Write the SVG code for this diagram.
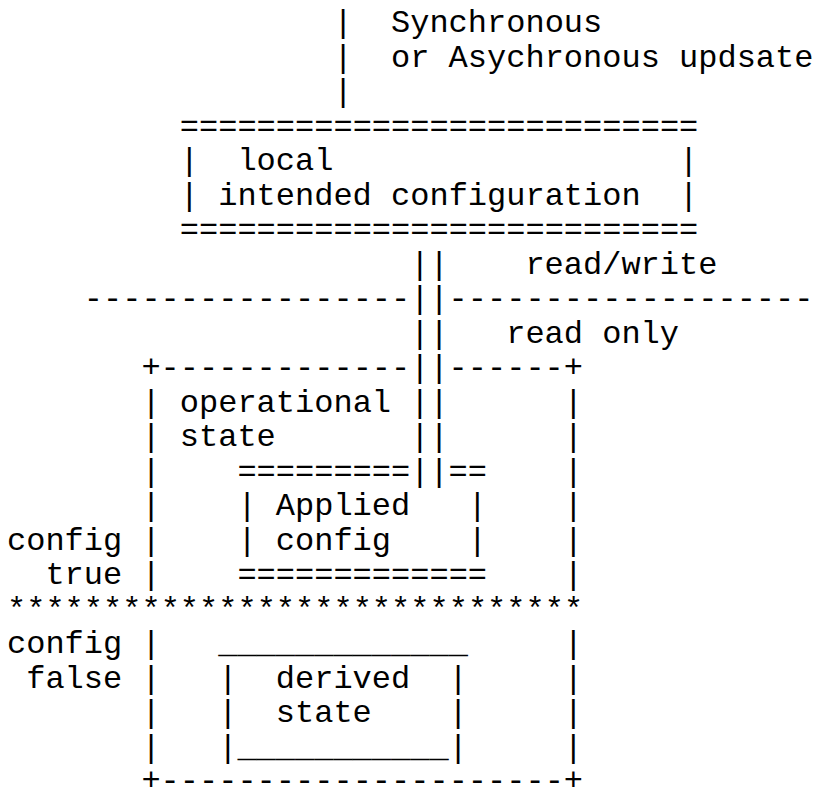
<svg xmlns="http://www.w3.org/2000/svg" width="814" height="794" viewBox="0 0 814 794">
<style>
text { font-family: "Courier New", "Nimbus Mono PS", "FreeMono", "Liberation Mono", monospace; font-size: 32px; fill: #000; }
</style>
<rect width="814" height="794" fill="#fff"/>
<g id="connectors">
<text x="333.4" y="32">|</text>
<text x="333.4" y="66.5">|</text>
<text x="333.4" y="101">|</text>
<text x="410.2" y="273.5">||</text>
<text x="83.8" y="308">-----------------</text>
<text x="410.2" y="308">||</text>
<text x="448.6" y="308">-------------------</text>
<text x="410.2" y="342.5">||</text>
<text x="410.2" y="377">||</text>
<text x="410.2" y="411.5">||</text>
<text x="410.2" y="446">||</text>
<text x="410.2" y="480.5">||</text>
</g>
<g id="labels">
<text x="391" y="32">Synchronous</text>
<text x="391" y="66.5">or Asychronous updsate</text>
<text x="525.4" y="273.5">read/write</text>
<text x="506.2" y="342.5">read only</text>
<text x="7" y="549.5">config</text>
<text x="45.4" y="584">true</text>
<text x="7" y="653">config</text>
<text x="26.2" y="687.5">false</text>
</g>
<g id="separator">
<text x="7" y="618.5">******************************</text>
</g>
<g id="intended-configuration">
<text x="179.8" y="135.5">===========================</text>
<text x="179.8" y="170">|</text>
<text x="237.4" y="170">local</text>
<text x="679" y="170">|</text>
<text x="179.8" y="204.5">|</text>
<text x="218.2" y="204.5">intended configuration</text>
<text x="679" y="204.5">|</text>
<text x="179.8" y="239">===========================</text>
</g>
<g id="operational-state">
<text x="141.4" y="377">+-------------</text>
<text x="448.6" y="377">------+</text>
<text x="141.4" y="411.5">|</text>
<text x="179.8" y="411.5">operational</text>
<text x="563.8" y="411.5">|</text>
<text x="141.4" y="446">|</text>
<text x="179.8" y="446">state</text>
<text x="563.8" y="446">|</text>
<text x="141.4" y="480.5">|</text>
<text x="563.8" y="480.5">|</text>
<text x="141.4" y="515">|</text>
<text x="563.8" y="515">|</text>
<text x="141.4" y="549.5">|</text>
<text x="563.8" y="549.5">|</text>
<text x="141.4" y="584">|</text>
<text x="563.8" y="584">|</text>
<text x="141.4" y="653">|</text>
<text x="563.8" y="653">|</text>
<text x="141.4" y="687.5">|</text>
<text x="563.8" y="687.5">|</text>
<text x="141.4" y="722">|</text>
<text x="563.8" y="722">|</text>
<text x="141.4" y="756.5">|</text>
<text x="563.8" y="756.5">|</text>
<text x="141.4" y="790">+---------------------+</text>
</g>
<g id="applied-config">
<text x="237.4" y="480.5">=========</text>
<text x="448.6" y="480.5">==</text>
<text x="237.4" y="515">|</text>
<text x="275.8" y="515">Applied</text>
<text x="467.8" y="515">|</text>
<text x="237.4" y="549.5">|</text>
<text x="275.8" y="549.5">config</text>
<text x="467.8" y="549.5">|</text>
<text x="237.4" y="584">=============</text>
</g>
<g id="derived-state">
<text x="218.2" y="653">_____________</text>
<text x="218.2" y="687.5">|</text>
<text x="275.8" y="687.5">derived</text>
<text x="448.6" y="687.5">|</text>
<text x="218.2" y="722">|</text>
<text x="275.8" y="722">state</text>
<text x="448.6" y="722">|</text>
<text x="218.2" y="756.5">|</text>
<text x="237.4" y="756.5">___________</text>
<text x="448.6" y="756.5">|</text>
</g>
</svg>
